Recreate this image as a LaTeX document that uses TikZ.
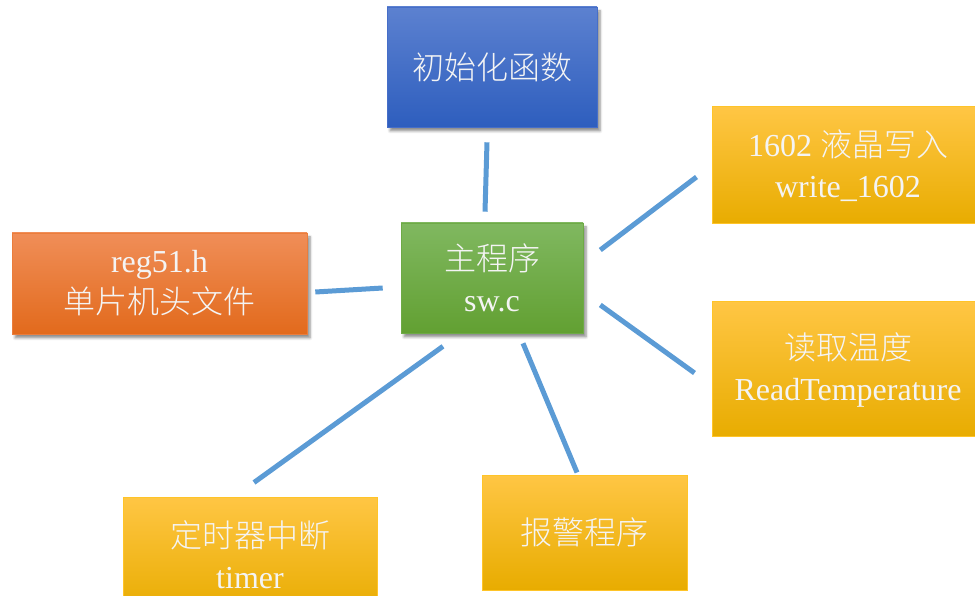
\documentclass[tikz,border=0pt]{standalone}
\usepackage{fontspec}
\setmainfont{Liberation Serif}
\newfontfamily\cjk{Noto Sans CJK SC Light}
\usetikzlibrary{calc,shadows.blur}
\definecolor{linkblue}{HTML}{5B9BD5}
\definecolor{txt}{HTML}{F4F4F4}
\tikzset{
  box/.style={rectangle, inner sep=0pt, align=center, text=txt,
    font=\fontsize{32}{41}\selectfont},
  shad/.style={blur shadow={shadow xshift=3pt, shadow yshift=-4pt, shadow blur steps=6, shadow blur radius=2.5pt, shadow opacity=45}},
  bluebox/.style={box, shad, top color={rgb,255:red,92;green,129;blue,208}, bottom color={rgb,255:red,46;green,94;blue,190}, draw={rgb,255:red,70;green,110;blue,200}, line width=0.6pt},
  orangebox/.style={box, shad, top color={rgb,255:red,240;green,142;blue,88}, bottom color={rgb,255:red,226;green,106;blue,28}, draw={rgb,255:red,235;green,125;blue,60}, line width=0.6pt},
  greenbox/.style={box, shad, top color={rgb,255:red,128;green,184;blue,96}, bottom color={rgb,255:red,98;green,160;blue,50}, draw={rgb,255:red,110;green,170;blue,70}, line width=0.6pt},
  yellowbox/.style={box, top color={rgb,255:red,255;green,198;blue,68}, middle color={rgb,255:red,255;green,192;blue,0}, bottom color={rgb,255:red,232;green,172;blue,0}, draw={rgb,255:red,255;green,196;blue,40}, line width=1pt},
  link/.style={draw=linkblue, line width=5pt}
}
\begin{document}
\begin{tikzpicture}[x=1pt,y=1pt]
\useasboundingbox (0,0) rectangle (975,595);
\clip (0,0) rectangle (975,595);
\node[bluebox, minimum width=210pt, minimum height=120pt] (init) at (492,528) {{\cjk 初始化函数}};
\node[orangebox, minimum width=295pt, minimum height=101pt] (reg) at (159.5,311.5) {reg51.h\\{\cjk 单片机头文件}};
\node[greenbox, minimum width=182pt, minimum height=110pt] (main) at (492,317) {{\cjk 主程序}\\sw.c};
\node[yellowbox, minimum width=272pt, minimum height=117pt] (lcd) at (848,429.5) {1602 {\cjk 液晶写入}\\write\_1602};
\node[yellowbox, minimum width=272pt, minimum height=135pt] (temp) at (848,225.5) {{\cjk 读取温度}\\ReadTemperature};
\node[yellowbox, minimum width=254pt, minimum height=116pt] (timer) at (250,40) {{\cjk 定时器中断}\\timer};
\node[yellowbox, minimum width=205pt, minimum height=115pt] (alarm) at (584.5,62.5) {{\cjk 报警程序}};
\draw[link] ($(init.south)+(-5,-15)$) -- ($(main.north)+(-7,11)$);
\draw[link] ($(reg.east)+(8,-8.5)$) -- ($(main.west)+(-18,-10)$);
\draw[link] ($(main.east)+(17,28)$) -- ($(lcd.west)+(-15,-11.5)$);
\draw[link] ($(main.east)+(17,-27)$) -- ($(temp.west)+(-17,-3.5)$);
\draw[link] ($(main.south)+(-49,-13)$) -- ($(timer.north)+(4,14)$);
\draw[link] ($(main.south)+(31,-10)$) -- ($(alarm.north)+(-7.5,2)$);
\end{tikzpicture}
\end{document}
